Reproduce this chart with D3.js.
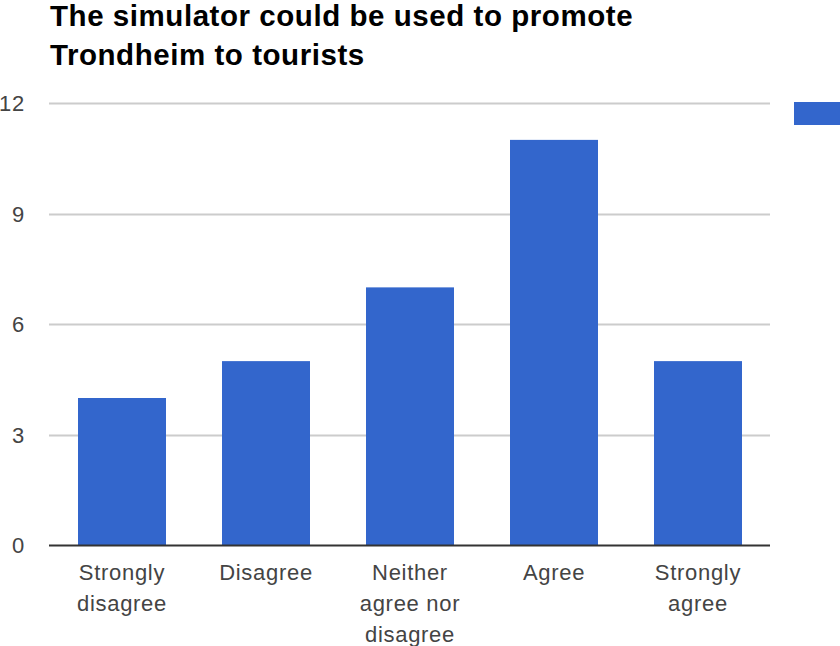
<!DOCTYPE html>
<html>
<head>
<meta charset="utf-8">
<script src="https://cdn.jsdelivr.net/npm/d3@7"></script>
<style>
  html, body { margin: 0; padding: 0; background: #fff; }
  svg { display: block; }
</style>
</head>
<body>
<script>
const titleLines = ["The simulator could be used to promote", "Trondheim to tourists"];
const categories = ["Strongly disagree", "Disagree", "Neither agree nor disagree", "Agree", "Strongly agree"];
const values = [4, 5, 7, 11, 5];
const yTicks = [0, 3, 6, 9, 12];

const W = 840, H = 646;
const svg = d3.select("body").append("svg").attr("width", W).attr("height", H);
const font = "'Liberation Sans', Arial, sans-serif";

const x = d3.scaleBand().domain(categories).range([50, 770]).paddingInner(0.389).paddingOuter(0.1945);
const y = d3.scaleLinear().domain([0, 12]).range([545.5, 103]);

// title
svg.append("g").selectAll("text").data(titleLines).join("text")
  .attr("x", 50).attr("y", (d, i) => 26 + i * 39)
  .attr("font-family", font).attr("font-weight", "bold").attr("font-size", 29.5)
  .attr("letter-spacing", 0.55)
  .attr("fill", "#000").text(d => d);

// gridlines
svg.append("g").selectAll("line").data(yTicks.filter(t => t !== 0)).join("line")
  .attr("x1", 49).attr("x2", 770)
  .attr("y1", d => Math.round(y(d)) + 0.5).attr("y2", d => Math.round(y(d)) + 0.5)
  .attr("stroke", "#cccccc").attr("stroke-width", 2);

// y tick labels
svg.append("g").selectAll("text").data(yTicks).join("text")
  .attr("x", 25).attr("y", d => y(d)).attr("dy", "0.36em")
  .attr("text-anchor", "end")
  .attr("font-family", font).attr("font-size", 22).attr("fill", "#444")
  .attr("letter-spacing", 0.8)
  .text(d => d);

// bars
svg.append("g").selectAll("rect").data(values).join("rect")
  .attr("x", (d, i) => x(categories[i]))
  .attr("width", x.bandwidth())
  .attr("y", d => y(d))
  .attr("height", d => y(0) - y(d))
  .attr("fill", "#3366cc");

// baseline
svg.append("line").attr("x1", 49).attr("x2", 770)
  .attr("y1", y(0)).attr("y2", y(0))
  .attr("stroke", "#333").attr("stroke-width", 2);

// category labels with wrapping
const labelG = svg.append("g");
const maxW = 128;
categories.forEach(cat => {
  const t = labelG.append("text")
    .attr("font-family", font).attr("font-size", 22).attr("fill", "#444")
    .attr("letter-spacing", 0.7)
    .attr("text-anchor", "middle");
  const words = cat.split(" ");
  const lines = [];
  let cur = [];
  words.forEach(w => {
    const test = cur.concat([w]).join(" ");
    t.text(test);
    if (cur.length && t.node().getComputedTextLength() > maxW) {
      lines.push(cur.join(" "));
      cur = [w];
    } else cur.push(w);
  });
  if (cur.length) lines.push(cur.join(" "));
  t.text(null);
  const cx = x(cat) + x.bandwidth() / 2;
  lines.forEach((l, i) => {
    t.append("tspan").attr("x", cx).attr("y", 580 + i * 31).text(l);
  });
});

// legend swatch (cropped at right edge)
svg.append("rect").attr("x", 794).attr("y", 102).attr("width", 60).attr("height", 23).attr("fill", "#3366cc");
</script>
</body>
</html>
